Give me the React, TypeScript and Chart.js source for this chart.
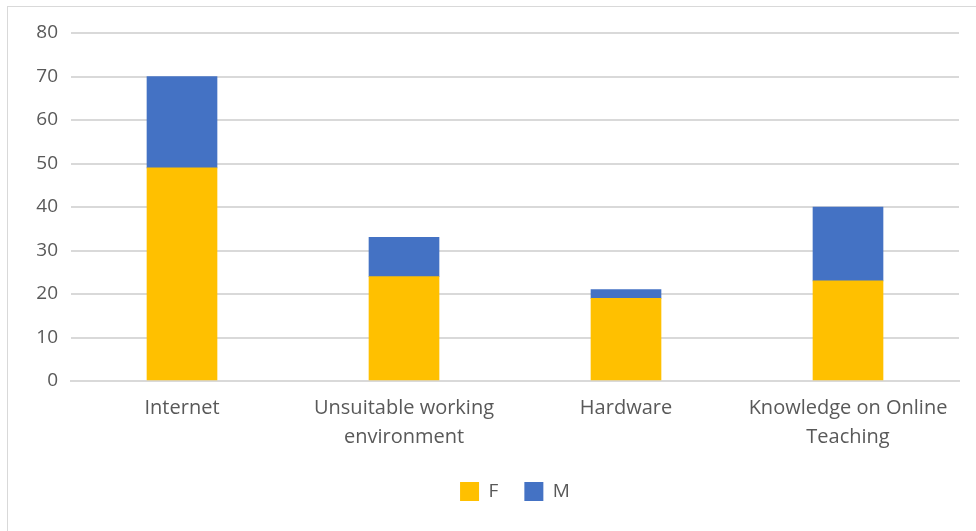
import React, { useEffect, useRef } from "react";
import { Chart, registerables } from "chart.js";

Chart.register(...registerables);

const categories: (string | string[])[] = [
  "Internet",
  ["Unsuitable working", "environment"],
  "Hardware",
  ["Knowledge on Online", "Teaching"],
];
const femaleValues = [49, 24, 19, 23];
const maleValues = [21, 9, 2, 17];
const yTicks = [0, 10, 20, 30, 40, 50, 60, 70, 80];

const FONT = "'Open Sans', 'Noto Sans', sans-serif";
const TEXT = "#595959";

export default function App() {
  const ref = useRef<HTMLCanvasElement | null>(null);
  useEffect(() => {
    document.body.style.margin = "0";
    const chart = new Chart(ref.current!, {
      type: "bar",
      data: {
        labels: categories,
        datasets: [
          { label: "F", data: femaleValues, backgroundColor: "#FFC000", barThickness: 70 },
          { label: "M", data: maleValues, backgroundColor: "#4472C4", barThickness: 70 },
        ],
      },
      options: {
        animation: false,
        responsive: false,
        maintainAspectRatio: false,
        layout: { padding: { left: 0, right: 17, top: 33, bottom: 20 } },
        plugins: {
          tooltip: { enabled: false },
          legend: {
            position: "bottom",
            fullSize: false,
            labels: {
              boxWidth: 19,
              boxHeight: 19,
              padding: 26,
              color: TEXT,
              font: { family: FONT, size: 19 },
            },
          },
        },
        scales: {
          x: {
            stacked: true,
            grid: { display: false, drawTicks: false },
            border: { color: "#d9d9d9", width: 2 },
            ticks: {
              color: TEXT,
              font: { family: FONT, size: 20, lineHeight: 1.45 },
              padding: 13,
              maxRotation: 0,
              autoSkip: false,
            },
            afterFit: (s: any) => {
              s.height = 75;
            },
          },
          y: {
            stacked: true,
            min: 0,
            max: 80,
            afterBuildTicks: (s: any) => {
              s.ticks = yTicks.map((v) => ({ value: v }));
            },
            grid: { color: "#d9d9d9", lineWidth: 2, drawTicks: false },
            border: { display: false },
            ticks: {
              color: TEXT,
              font: { family: FONT, size: 19 },
              padding: 13,
            },
            afterFit: (s: any) => {
              s.width = 71;
            },
          },
        },
      },
    });
    return () => chart.destroy();
  }, []);
  return (
    <div style={{ position: "relative", width: 976, height: 531, background: "#fff" }}>
      <canvas ref={ref} width={976} height={531} style={{ display: "block" }} />
      <div
        style={{
          position: "absolute",
          left: 7,
          top: 6,
          right: 0,
          bottom: 0,
          borderLeft: "1px solid #d9d9d9",
          borderTop: "1px solid #d9d9d9",
          pointerEvents: "none",
        }}
      />
    </div>
  );
}
